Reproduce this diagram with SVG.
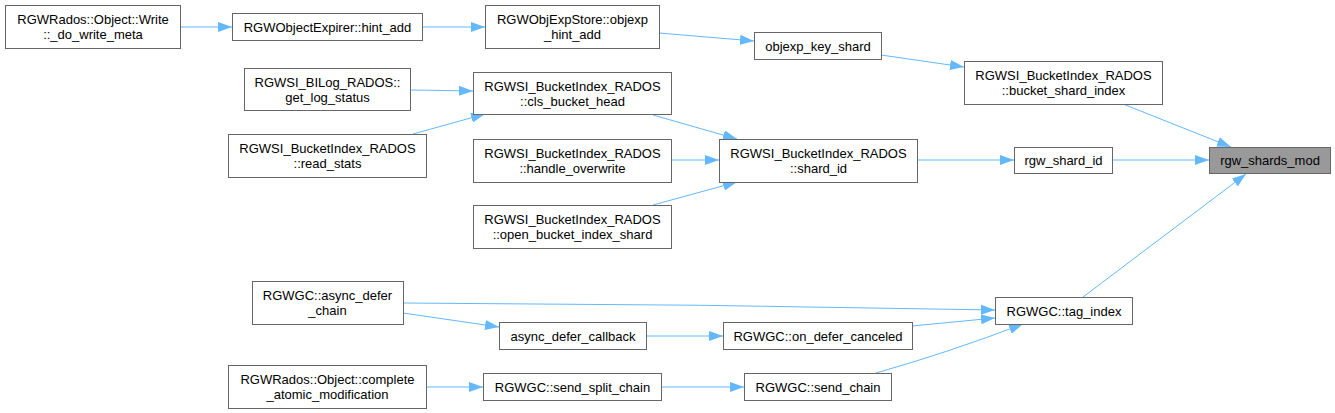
<svg xmlns="http://www.w3.org/2000/svg" width="1335" height="413" viewBox="0 0 1335 413">
<style>
.n rect{fill:#ffffff;stroke:#666666;stroke-width:1}
.n.hl rect{fill:#999999}
.n text{font-family:"Liberation Sans",Arial,sans-serif;font-size:13px;fill:#000000;text-anchor:middle}
#edges path{fill:none;stroke:#63b8ff;stroke-width:1;marker-end:url(#ah)}
</style>
<defs>
<marker id="ah" markerUnits="userSpaceOnUse" markerWidth="14" markerHeight="10" viewBox="0 0 14 10" refX="14" refY="5" orient="auto">
<path d="M0,0 L14,5 L0,10 z" fill="#63b8ff"/>
</marker>
</defs>
<rect width="1335" height="413" fill="#ffffff"/>
<g id="edges">
<path d="M180,27 L232,27"/>
<path d="M422,27 L485,27"/>
<path d="M659,33 L754,41"/>
<path d="M881,55 L964,67"/>
<path d="M1123,104 L1231,147"/>
<path d="M1112,160 L1209,160"/>
<path d="M917,160 L1014,160"/>
<path d="M410,90 L473,91"/>
<path d="M413,134 L485,114"/>
<path d="M653,115 L737,139"/>
<path d="M671,160 L719,160"/>
<path d="M653,205 L737,182"/>
<path d="M1083,297 L1246,174"/>
<path d="M403,303 Q700,304 995,310"/>
<path d="M403,313 L499,327"/>
<path d="M646,336 L723,336"/>
<path d="M912,326 L995,318"/>
<path d="M426,387 L483,387"/>
<path d="M661,387 L744,387"/>
<path d="M876,373 Q950,352 1023,324"/>
</g>
<g id="n_do_write_meta" class="n"><rect x="5.5" y="5.5" width="175" height="43"/><text x="93" y="24">RGWRados::Object::Write</text><text x="93" y="39">::_do_write_meta</text></g>
<g id="n_hint_add" class="n"><rect x="232.5" y="13.5" width="190" height="27"/><text x="327.5" y="31.5">RGWObjectExpirer::hint_add</text></g>
<g id="n_objexp_hint_add" class="n"><rect x="485.5" y="5.5" width="174" height="43"/><text x="572.5" y="24">RGWObjExpStore::objexp</text><text x="572.5" y="39">_hint_add</text></g>
<g id="n_objexp_key_shard" class="n"><rect x="754.5" y="32.5" width="127" height="27"/><text x="818" y="50.5">objexp_key_shard</text></g>
<g id="n_bucket_shard_index" class="n"><rect x="964.5" y="61.5" width="198" height="43"/><text x="1063.5" y="80">RGWSI_BucketIndex_RADOS</text><text x="1063.5" y="95">::bucket_shard_index</text></g>
<g id="n_get_log_status" class="n"><rect x="244.5" y="68.5" width="166" height="42"/><text x="327.5" y="87">RGWSI_BILog_RADOS::</text><text x="327.5" y="102">get_log_status</text></g>
<g id="n_read_stats" class="n"><rect x="228.5" y="134.5" width="198" height="43"/><text x="327.5" y="153">RGWSI_BucketIndex_RADOS</text><text x="327.5" y="168">::read_stats</text></g>
<g id="n_cls_bucket_head" class="n"><rect x="473.5" y="72.5" width="198" height="42"/><text x="572.5" y="91">RGWSI_BucketIndex_RADOS</text><text x="572.5" y="106">::cls_bucket_head</text></g>
<g id="n_handle_overwrite" class="n"><rect x="473.5" y="139.5" width="198" height="43"/><text x="572.5" y="158">RGWSI_BucketIndex_RADOS</text><text x="572.5" y="173">::handle_overwrite</text></g>
<g id="n_open_bucket_index_shard" class="n"><rect x="473.5" y="205.5" width="198" height="43"/><text x="572.5" y="224">RGWSI_BucketIndex_RADOS</text><text x="572.5" y="239">::open_bucket_index_shard</text></g>
<g id="n_shard_id" class="n"><rect x="719.5" y="139.5" width="198" height="43"/><text x="818.5" y="158">RGWSI_BucketIndex_RADOS</text><text x="818.5" y="173">::shard_id</text></g>
<g id="n_rgw_shard_id" class="n"><rect x="1014.5" y="147.5" width="98" height="26"/><text x="1063.5" y="165">rgw_shard_id</text></g>
<g id="n_rgw_shards_mod" class="n hl"><rect x="1209.5" y="147.5" width="121" height="26"/><text x="1270" y="165">rgw_shards_mod</text></g>
<g id="n_async_defer_chain" class="n"><rect x="252.5" y="281.5" width="151" height="43"/><text x="327.5" y="300">RGWGC::async_defer</text><text x="327.5" y="315">_chain</text></g>
<g id="n_async_defer_callback" class="n"><rect x="499.5" y="322.5" width="147" height="27"/><text x="573" y="340.5">async_defer_callback</text></g>
<g id="n_on_defer_canceled" class="n"><rect x="723.5" y="322.5" width="189" height="27"/><text x="818" y="340.5">RGWGC::on_defer_canceled</text></g>
<g id="n_tag_index" class="n"><rect x="995.5" y="297.5" width="137" height="27"/><text x="1064" y="315.5">RGWGC::tag_index</text></g>
<g id="n_complete_atomic_modification" class="n"><rect x="228.5" y="365.5" width="198" height="43"/><text x="327.5" y="384">RGWRados::Object::complete</text><text x="327.5" y="399">_atomic_modification</text></g>
<g id="n_send_split_chain" class="n"><rect x="483.5" y="373.5" width="178" height="27"/><text x="572.5" y="391.5">RGWGC::send_split_chain</text></g>
<g id="n_send_chain" class="n"><rect x="744.5" y="373.5" width="147" height="27"/><text x="818" y="391.5">RGWGC::send_chain</text></g>
</svg>
